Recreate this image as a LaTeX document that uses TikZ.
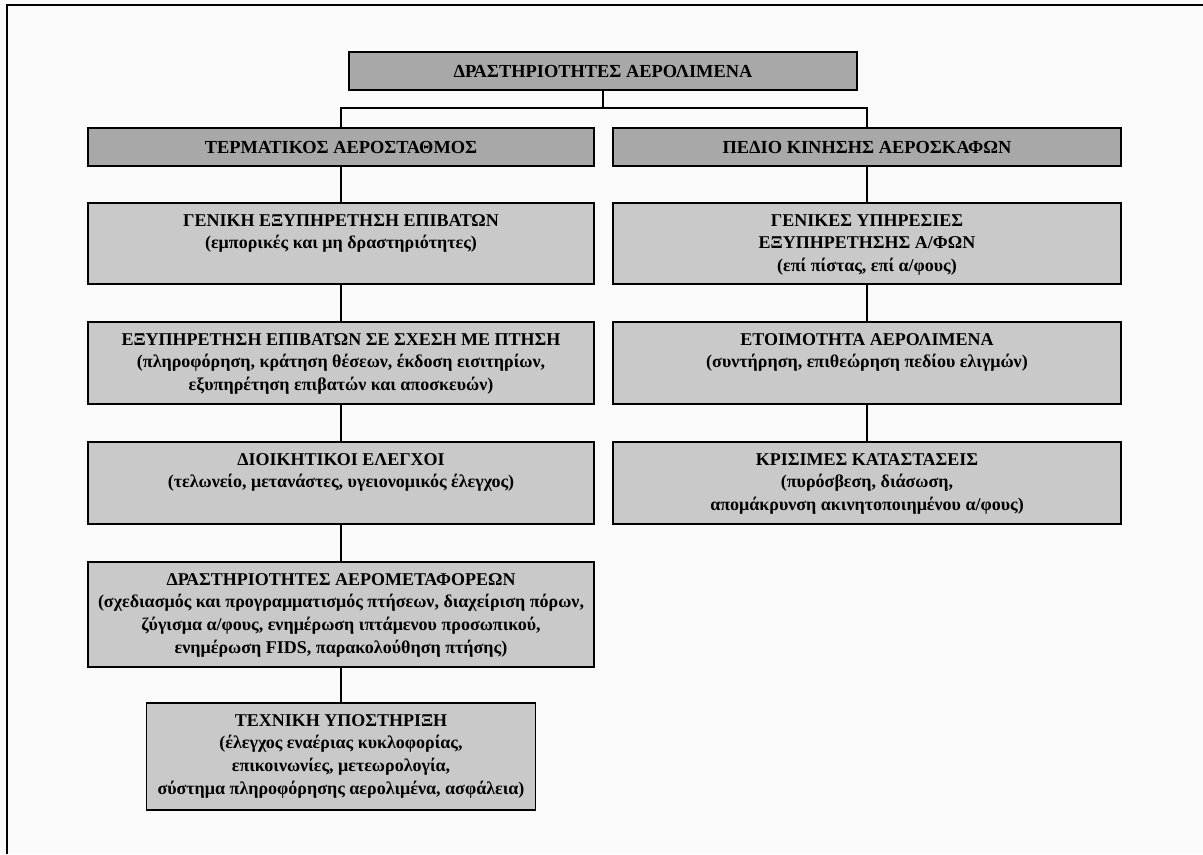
\documentclass[tikz,border=0pt]{standalone}
\usepackage{fontspec}
\setmainfont{Liberation Serif}
\definecolor{darkfill}{gray}{0.66}
\definecolor{lightfill}{gray}{0.79}
\definecolor{paper}{gray}{0.985}
\newcommand\bxt[3]{\parbox[c][#2][t]{#1}{\centering\rule{0pt}{17.25pt}#3\par}}
\begin{document}
\begin{tikzpicture}[x=0.75pt,y=-0.75pt,
  font=\fontsize{13.5}{17}\selectfont\bfseries,
  box/.style={draw=black, line width=1.4pt, inner sep=0pt, fill=lightfill},
  headbox/.style={box, fill=darkfill, minimum height=28.5pt, font=\fontsize{13.8}{17}\selectfont\bfseries},
  link/.style={line width=1.2pt}]
\fill[paper] (0,0) rectangle (1203,854);
\useasboundingbox (0,0) rectangle (1203,854);
\draw[line width=2.2pt] (7,854) -- (7,5) -- (1203,5);

\node[headbox, minimum width=381pt] (top) at (603,71) {ΔΡΑΣΤΗΡΙΟΤΗΤΕΣ ΑΕΡΟΛΙΜΕΝΑ};
\node[headbox, minimum width=379.5pt] (term) at (341,147) {ΤΕΡΜΑΤΙΚΟΣ ΑΕΡΟΣΤΑΘΜΟΣ};
\node[headbox, minimum width=381pt] (pedio) at (867,147) {ΠΕΔΙΟ ΚΙΝΗΣΗΣ ΑΕΡΟΣΚΑΦΩΝ};

\node[box] (L1) at (341,243.5) {\bxt{379.5pt}{60.75pt}{ΓΕΝΙΚΗ ΕΞΥΠΗΡΕΤΗΣΗ ΕΠΙΒΑΤΩΝ\\(εμπορικές και μη δραστηριότητες)}};
\node[box] (R1) at (867,243.5) {\bxt{381pt}{60.75pt}{ΓΕΝΙΚΕΣ ΥΠΗΡΕΣΙΕΣ\\ΕΞΥΠΗΡΕΤΗΣΗΣ Α/ΦΩΝ\\(επί πίστας, επί α/φους)}};
\node[box] (L2) at (341,363) {\bxt{379.5pt}{61.5pt}{ΕΞΥΠΗΡΕΤΗΣΗ ΕΠΙΒΑΤΩΝ ΣΕ ΣΧΕΣΗ ΜΕ ΠΤΗΣΗ\\(πληροφόρηση, κράτηση θέσεων, έκδοση εισιτηρίων,\\εξυπηρέτηση επιβατών και αποσκευών)}};
\node[box] (R2) at (867,363) {\bxt{381pt}{61.5pt}{ΕΤΟΙΜΟΤΗΤΑ ΑΕΡΟΛΙΜΕΝΑ\\(συντήρηση, επιθεώρηση πεδίου ελιγμών)}};
\node[box] (L3) at (341,483) {\bxt{379.5pt}{61.5pt}{ΔΙΟΙΚΗΤΙΚΟΙ ΕΛΕΓΧΟΙ\\(τελωνείο, μετανάστες, υγειονομικός έλεγχος)}};
\node[box] (R3) at (867,483) {\bxt{381pt}{61.5pt}{ΚΡΙΣΙΜΕΣ ΚΑΤΑΣΤΑΣΕΙΣ\\(πυρόσβεση, διάσωση,\\απομάκρυνση ακινητοποιημένου α/φους)}};
\node[box] (L4) at (341,614.5) {\bxt{379.5pt}{78.75pt}{ΔΡΑΣΤΗΡΙΟΤΗΤΕΣ ΑΕΡΟΜΕΤΑΦΟΡΕΩΝ\\(σχεδιασμός και προγραμματισμός πτήσεων, διαχείριση πόρων,\\ζύγισμα α/φους, ενημέρωση ιπτάμενου προσωπικού,\\ενημέρωση FIDS, παρακολούθηση πτήσης)}};
\node[box] (L5) at (341,756.5) {\bxt{291.75pt}{80.25pt}{ΤΕΧΝΙΚΗ ΥΠΟΣΤΗΡΙΞΗ\\(έλεγχος εναέριας κυκλοφορίας,\\επικοινωνίες, μετεωρολογία,\\σύστημα πληροφόρησης αερολιμένα, ασφάλεια)}};

\coordinate (j) at (603,108);
\draw[link] (top.south) -- (j);
\draw[link] (j) -| (term.north);
\draw[link] (j) -| (pedio.north);
\draw[link] (term) -- (L1);
\draw[link] (L1) -- (L2);
\draw[link] (L2) -- (L3);
\draw[link] (L3) -- (L4);
\draw[link] (L4) -- (L5);
\draw[link] (pedio) -- (R1);
\draw[link] (R1) -- (R2);
\draw[link] (R2) -- (R3);
\end{tikzpicture}
\end{document}
